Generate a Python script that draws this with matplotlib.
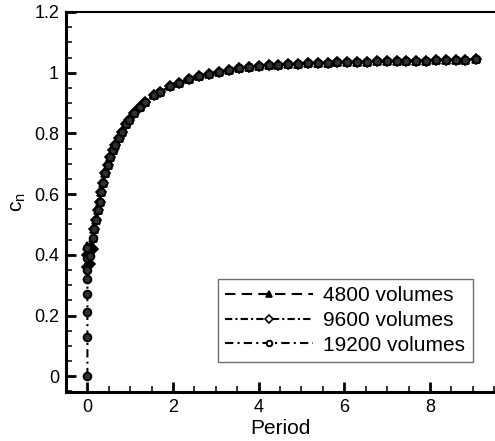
import matplotlib
matplotlib.use("Agg")
import matplotlib.pyplot as plt
from matplotlib.ticker import MultipleLocator

plt.rcParams['font.family'] = ['Liberation Sans', 'DejaVu Sans']

# main part of the curve
t_main = [0.164, 0.21, 0.24, 0.29, 0.32, 0.367, 0.42, 0.475, 0.537, 0.59,
          0.654, 0.73, 0.81, 0.89, 0.965, 1.08, 1.24, 1.355, 1.55, 1.705,
          1.94, 2.13, 2.37, 2.6, 2.83, 3.07, 3.30, 3.53, 3.77, 4.0,
          4.23, 4.46, 4.69, 4.92, 5.15, 5.38, 5.61, 5.84, 6.07, 6.30,
          6.53, 6.76, 6.99, 7.22, 7.45, 7.68, 7.91, 8.14, 8.37, 8.60,
          8.83, 9.07]
c_main = [0.484, 0.515, 0.548, 0.575, 0.608, 0.636, 0.669, 0.696, 0.723, 0.745,
          0.762, 0.784, 0.806, 0.83, 0.844, 0.866, 0.888, 0.904, 0.927, 0.937,
          0.956, 0.967, 0.978, 0.989, 0.996, 1.003, 1.009, 1.014, 1.018, 1.022,
          1.024, 1.026, 1.028, 1.030, 1.031, 1.032, 1.033, 1.034, 1.035, 1.036,
          1.036, 1.037, 1.038, 1.038, 1.039, 1.040, 1.040, 1.041, 1.042, 1.042,
          1.043, 1.044]

# start-up part of each run
t_start_4800 = [0.0, 0.07, 0.13]
c_start_4800 = [0.43, 0.427, 0.455]
t_start_9600 = [0.0, 0.0, 0.07, 0.13]
c_start_9600 = [0.36, 0.40, 0.37, 0.42]
t_start_19200 = [0.0, 0.0, 0.0, 0.0, 0.0, 0.0, 0.0, 0.0, 0.07, 0.13]
c_start_19200 = [0.0, 0.13, 0.21, 0.27, 0.32, 0.35, 0.39, 0.424, 0.396, 0.455]

labels = ["4800 volumes", "9600 volumes", "19200 volumes"]

fig = plt.figure(figsize=(4.95, 4.41), dpi=100)
ax = fig.add_axes([66 / 495, 1 - 392 / 441, 1 - 66 / 495, (392 - 12) / 441])

ax.plot(t_start_4800 + t_main, c_start_4800 + c_main, color='k', lw=1.5,
        ls=(0, (5, 3)), marker='^', ms=5.5, mfc='k', mec='k', mew=1.2,
        label=labels[0])
ax.plot(t_start_9600 + t_main, c_start_9600 + c_main, color='k', lw=1.5,
        ls=(0, (3.5, 1.5, 1, 1.5)), marker='D', ms=5, mfc='k', mec='k',
        mew=1.2, label=labels[1])
ax.plot(t_start_19200 + t_main, c_start_19200 + c_main, color='k', lw=1.5,
        ls=(0, (4, 2, 1, 2)), marker='o', ms=5.5, mfc='#303030', mec='k',
        mew=1.4, label=labels[2])

ax.set_xlim(-0.5, 9.52)
ax.set_ylim(-0.052, 1.2)
ax.xaxis.set_major_locator(MultipleLocator(2))
ax.xaxis.set_minor_locator(MultipleLocator(0.5))
ax.yaxis.set_major_locator(MultipleLocator(0.2))
ax.yaxis.set_minor_locator(MultipleLocator(0.05))
ax.xaxis.set_major_formatter(plt.FuncFormatter(lambda v, p: f"{v:g}"))
ax.yaxis.set_major_formatter(plt.FuncFormatter(lambda v, p: f"{v:g}"))

ax.tick_params(which='major', direction='in', length=7, width=2, labelsize=13,
               pad=5, top=False, right=False)
ax.tick_params(which='minor', direction='in', length=4, width=1.1,
               top=False, right=False)

for s in ['left', 'bottom']:
    ax.spines[s].set_linewidth(2.2)
ax.spines['top'].set_linewidth(1.5)
ax.spines['right'].set_visible(False)

ax.set_xlabel("Period", fontsize=15, labelpad=2)
ax.set_ylabel("$\\mathregular{c_n}$", fontsize=15, labelpad=4)

leg = ax.legend(loc='upper left', bbox_to_anchor=(218 / 495, 1 - 279 / 441),
                bbox_transform=fig.transFigure, fontsize=15, handlelength=4.2,
                handletextpad=0.5, labelspacing=0.27, borderpad=0.35,
                borderaxespad=0, numpoints=1, fancybox=False, framealpha=1)
leg.get_frame().set_edgecolor('#707070')
leg.get_frame().set_linewidth(1.0)
# small open symbols in the legend, as in the original
hs = leg.legend_handles
hs[0].set_markersize(4)
for h in hs[1:]:
    h.set_markerfacecolor('white')
    h.set_markersize(4)

fig.savefig("out.png", dpi=100)
